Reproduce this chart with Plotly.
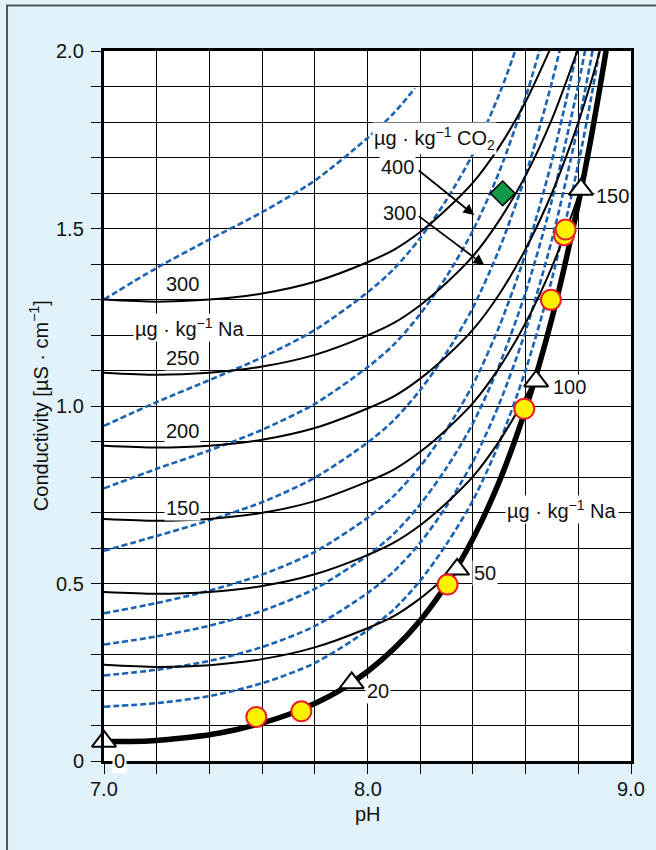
import plotly.graph_objects as go

# ---------------- data ----------------
# thick curve: NaOH only (no CO2)
ph_naoh = [7.0, 7.1, 7.2, 7.3, 7.4, 7.5, 7.6, 7.7, 7.8, 7.9, 8.0, 8.1, 8.2, 8.3, 8.4, 8.5, 8.6, 8.7, 8.8, 8.85, 8.9, 8.95]
k_naoh = [0.055, 0.055, 0.058, 0.065, 0.074, 0.088, 0.107, 0.131, 0.162, 0.201, 0.252, 0.316, 0.396, 0.498, 0.626, 0.787, 0.991, 1.247, 1.570, 1.761, 1.976, 2.217]

# constant Na curves (µg/kg Na)
na_curves = {
    300: ([7.0, 7.2, 7.4, 7.6, 7.8, 8.0, 8.1, 8.2, 8.3, 8.4, 8.5, 8.6, 8.7],
          [1.300, 1.294, 1.300, 1.317, 1.350, 1.405, 1.440, 1.490, 1.554, 1.629, 1.730, 1.857, 2.017]),
    250: ([7.0, 7.2, 7.4, 7.6, 7.8, 8.0, 8.1, 8.2, 8.3, 8.4, 8.5, 8.6, 8.7, 8.8],
          [1.094, 1.088, 1.094, 1.111, 1.144, 1.199, 1.234, 1.284, 1.347, 1.422, 1.523, 1.649, 1.808, 2.008]),
    200: ([7.0, 7.2, 7.4, 7.6, 7.8, 8.0, 8.1, 8.2, 8.3, 8.4, 8.5, 8.6, 8.7, 8.8, 8.85, 8.9],
          [0.888, 0.883, 0.888, 0.905, 0.938, 0.993, 1.027, 1.077, 1.140, 1.215, 1.315, 1.442, 1.600, 1.799, 1.917, 2.049]),
    150: ([7.0, 7.2, 7.4, 7.6, 7.8, 8.0, 8.1, 8.2, 8.3, 8.4, 8.5, 8.6, 8.7, 8.8, 8.815],
          [0.682, 0.677, 0.682, 0.699, 0.732, 0.787, 0.821, 0.871, 0.934, 1.008, 1.108, 1.234, 1.392, 1.590, 1.623]),
    100: ([7.0, 7.2, 7.4, 7.6, 7.8, 8.0, 8.1, 8.2, 8.3, 8.4, 8.5, 8.6, 8.638],
          [0.476, 0.471, 0.476, 0.493, 0.526, 0.580, 0.615, 0.664, 0.727, 0.801, 0.901, 1.026, 1.082]),
    50: ([7.0, 7.2, 7.4, 7.6, 7.8, 8.0, 8.1, 8.2, 8.3, 8.338],
         [0.271, 0.265, 0.270, 0.287, 0.320, 0.374, 0.408, 0.458, 0.520, 0.541]),
}

# constant CO2 curves (µg/kg CO2), dashed
co2_curves = {
    700: ([7.0, 7.2, 7.4, 7.6, 7.8, 8.0, 8.1, 8.18],
          [1.300, 1.389, 1.469, 1.546, 1.635, 1.755, 1.825, 1.895]),
    500: ([7.0, 7.2, 7.4, 7.6, 7.8, 8.0, 8.1, 8.2, 8.3, 8.4, 8.5, 8.55, 8.6],
          [0.944, 1.011, 1.073, 1.137, 1.214, 1.320, 1.386, 1.473, 1.581, 1.710, 1.878, 1.978, 2.089]),
    400: ([7.0, 7.2, 7.4, 7.6, 7.8, 8.0, 8.1, 8.2, 8.3, 8.4, 8.5, 8.6, 8.65, 8.7],
          [0.768, 0.823, 0.875, 0.933, 1.006, 1.109, 1.173, 1.259, 1.365, 1.494, 1.660, 1.870, 1.995, 2.135]),
    300: ([7.0, 7.2, 7.4, 7.6, 7.8, 8.0, 8.1, 8.2, 8.3, 8.4, 8.5, 8.6, 8.7, 8.75],
          [0.592, 0.634, 0.678, 0.729, 0.798, 0.897, 0.960, 1.045, 1.150, 1.277, 1.442, 1.650, 1.913, 2.067]),
    200: ([7.0, 7.2, 7.4, 7.6, 7.8, 8.0, 8.1, 8.2, 8.3, 8.4, 8.5, 8.6, 8.7, 8.8],
          [0.416, 0.445, 0.480, 0.525, 0.589, 0.685, 0.747, 0.830, 0.934, 1.060, 1.224, 1.430, 1.691, 2.017]),
    150: ([7.0, 7.2, 7.4, 7.6, 7.8, 8.0, 8.1, 8.2, 8.3, 8.4, 8.5, 8.6, 8.7, 8.8, 8.85],
          [0.328, 0.351, 0.381, 0.423, 0.485, 0.579, 0.640, 0.723, 0.826, 0.951, 1.115, 1.320, 1.580, 1.905, 2.098]),
    100: ([7.0, 7.2, 7.4, 7.6, 7.8, 8.0, 8.1, 8.2, 8.3, 8.4, 8.5, 8.6, 8.7, 8.8, 8.85, 8.9],
          [0.241, 0.257, 0.282, 0.321, 0.380, 0.473, 0.534, 0.615, 0.718, 0.843, 1.006, 1.211, 1.469, 1.793, 1.985, 2.202]),
    50: ([7.0, 7.2, 7.4, 7.6, 7.8, 8.0, 8.1, 8.2, 8.3, 8.4, 8.5, 8.6, 8.7, 8.8, 8.85, 8.9],
         [0.153, 0.163, 0.183, 0.219, 0.276, 0.368, 0.427, 0.508, 0.611, 0.734, 0.896, 1.101, 1.358, 1.682, 1.873, 2.089]),
}

# triangles on the NaOH curve (µg/kg Na)
tri_labels = ["0", "20", "50", "100", "150"]
tri_ph = [7.0, 7.94, 8.34, 8.64, 8.81]
tri_k = [0.055, 0.22, 0.54, 1.07, 1.61]

# measured points (yellow circles)
meas_ph = [7.578, 7.749, 8.304, 8.595, 8.696, 8.746, 8.752]
meas_k = [0.124, 0.140, 0.497, 0.992, 1.299, 1.481, 1.497]

# green diamond
dia_ph = [8.513]
dia_k = [1.599]

x_ticks = [7.0, 8.0, 9.0]
x_ticktext = ["7.0", "8.0", "9.0"]
y_ticks = [0, 0.5, 1.0, 1.5, 2.0]
y_ticktext = ["0", "0.5", "1.0", "1.5", "2.0"]

# ---------------- figure ----------------
FONT = "Liberation Sans, Arial, Helvetica, sans-serif"
BLUE = "#1a62b4"
TXT = "#111111"

fig = go.Figure()

for co2, (xs, ys) in co2_curves.items():
    fig.add_trace(go.Scatter(x=xs, y=ys, mode="lines",
                             line=dict(color=BLUE, width=2.6, dash="6px,3px", shape="spline", smoothing=0.8),
                             hoverinfo="skip", showlegend=False, name=f"{co2} CO2"))

for na, (xs, ys) in na_curves.items():
    fig.add_trace(go.Scatter(x=xs, y=ys, mode="lines", line=dict(color="black", width=2, shape="spline", smoothing=0.8),
                             hoverinfo="skip", showlegend=False, name=f"{na} Na"))

fig.add_trace(go.Scatter(x=ph_naoh, y=k_naoh, mode="lines",
                         line=dict(color="black", width=5.5, shape="spline", smoothing=0.8),
                         hoverinfo="skip", showlegend=False))

fig.add_trace(go.Scatter(x=tri_ph, y=tri_k, mode="markers", cliponaxis=False,
                         marker=dict(symbol="triangle-up", size=21, color="white", line=dict(color="black", width=2)),
                         showlegend=False))

fig.add_trace(go.Scatter(x=meas_ph, y=meas_k, mode="markers", cliponaxis=False,
                         marker=dict(symbol="circle", size=20, color="#fff200", line=dict(color="#e8202a", width=2)),
                         showlegend=False))

fig.add_trace(go.Scatter(x=dia_ph, y=dia_k, mode="markers",
                         marker=dict(symbol="diamond", size=19, color="#0f9a4a", line=dict(color="black", width=1.5)),
                         showlegend=False))

ann = []
def label(x, y, text, bg=True, xanchor="center", size=20):
    ann.append(dict(x=x, y=y, xref="x", yref="y", text=text, showarrow=False,
                    font=dict(size=size, color=TXT, family=FONT),
                    bgcolor="white" if bg else "rgba(0,0,0,0)", borderpad=1, xanchor=xanchor, yanchor="middle"))

NA_UNIT = "µg · kg<sup>−1</sup> Na"
label(7.299, 1.344, "300")
label(7.326, 1.222, NA_UNIT)
label(7.299, 1.135, "250")
label(7.299, 0.930, "200")
label(7.299, 0.713, "150")
label(8.739, 0.708, NA_UNIT)
label(8.254, 1.754, "µg · kg<sup>−1</sup> CO<sub>2</sub>")
label(8.114, 1.673, "400")
label(8.121, 1.543, "300")
# triangle labels
label(7.06, 0.0, "0")
label(8.038, 0.196, "20")
label(8.447, 0.53, "50")
label(8.765, 1.054, "100")
label(8.93, 1.591, "150")

# arrows
for (x0, y0, x1, y1) in [(8.189, 1.667, 8.405, 1.538), (8.189, 1.538, 8.443, 1.397)]:
    ann.append(dict(x=x1, y=y1, ax=x0, ay=y0, xref="x", yref="y", axref="x", ayref="y", text="",
                    showarrow=True, arrowhead=2, arrowsize=1.2, arrowwidth=1.8, arrowcolor="black"))

# tick labels (placed explicitly)
for v, t in zip(x_ticks, x_ticktext):
    ann.append(dict(x=v, y=-0.040, xref="x", yref="paper", text=t, showarrow=False,
                    font=dict(size=20, color=TXT, family=FONT), xanchor="center", yanchor="middle"))
for v, t in zip(y_ticks, y_ticktext):
    ann.append(dict(x=-0.034, y=v, xref="paper", yref="y", text=t, showarrow=False,
                    font=dict(size=20, color=TXT, family=FONT), xanchor="right", yanchor="middle"))

# axis titles
ann.append(dict(x=0.5, y=-0.075, xref="paper", yref="paper", text="pH", showarrow=False,
                font=dict(size=20, color=TXT, family=FONT), xanchor="center", yanchor="middle"))
ann.append(dict(x=-0.125, y=0.5, xref="paper", yref="paper", text="Conductivity [µS · cm<sup>−1</sup>]",
                showarrow=False, textangle=-90, font=dict(size=20, color=TXT, family=FONT),
                xanchor="center", yanchor="middle"))

fig.update_layout(
    width=656, height=850,
    margin=dict(l=104, r=25, t=51, b=89),
    paper_bgcolor="#e1f2fa", plot_bgcolor="white",
    font=dict(family=FONT, size=20, color=TXT),
    annotations=ann,
    shapes=[dict(type="rect", xref="paper", yref="paper", x0=-0.184, x1=1.3, y0=-0.3, y1=1.064,
                 line=dict(color="#555", width=2), fillcolor="rgba(0,0,0,0)", layer="below")],
    xaxis=dict(range=[7, 9], tickvals=x_ticks, ticktext=x_ticktext, showticklabels=False,
               ticks="outside", ticklen=10, tickwidth=1,
               tickcolor="black", showgrid=True, gridcolor="black", gridwidth=1, zeroline=False,
               showline=True, linecolor="black", linewidth=2.5, mirror=True,
               minor=dict(dtick=0.2, tick0=7, ticks="outside", ticklen=10, tickwidth=1, tickcolor="black",
                          showgrid=True, gridcolor="black", gridwidth=1)),
    yaxis=dict(range=[0, 2], tickvals=y_ticks, ticktext=y_ticktext, showticklabels=False,
               ticks="outside", ticklen=10, tickwidth=1,
               tickcolor="black", showgrid=True, gridcolor="black", gridwidth=1, zeroline=False,
               showline=True, linecolor="black", linewidth=2.5, mirror=True,
               minor=dict(dtick=0.1, tick0=0, ticks="outside", ticklen=10, tickwidth=1, tickcolor="black",
                          showgrid=True, gridcolor="black", gridwidth=1)),
)

fig.write_html("out.html")
